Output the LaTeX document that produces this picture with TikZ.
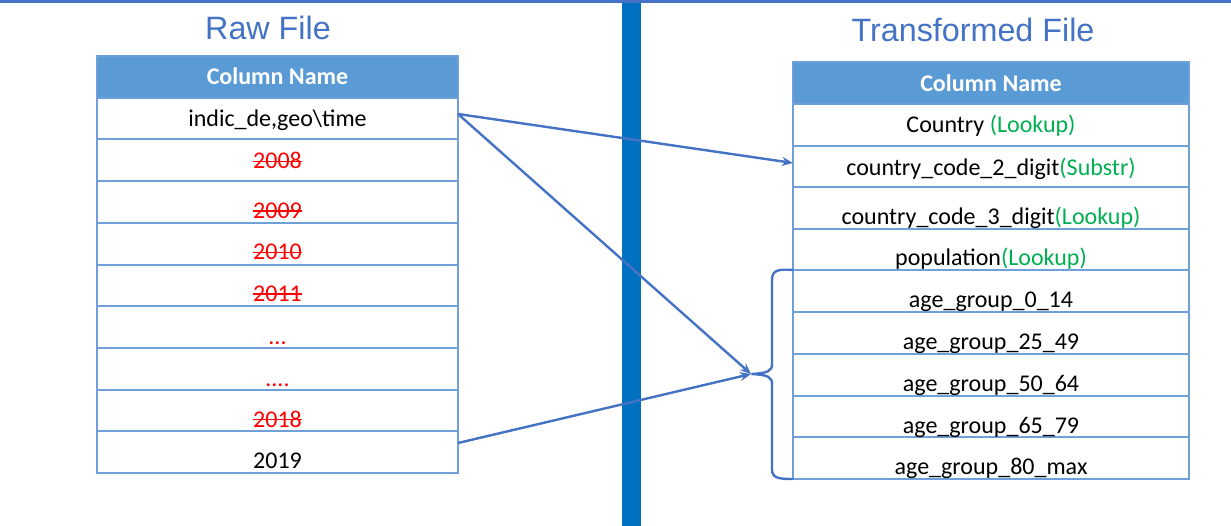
\documentclass[tikz,border=0pt]{standalone}
\usepackage{fontspec}
\setmainfont{Carlito}
\newfontfamily\titlefont{Liberation Sans}
\usetikzlibrary{arrows.meta}
\definecolor{titleblue}{HTML}{4472C4}
\definecolor{headfill}{HTML}{5B9BD5}
\definecolor{gridblue}{HTML}{6FA0DA}
\definecolor{barblue}{HTML}{0070C0}
\definecolor{okgreen}{HTML}{00B050}
\newcommand\mystrike[1]{\setbox0\hbox{#1}\rlap{\rule[0.29em]{\wd0}{1.5pt}}\box0}
\tikzset{
  cell/.style={text=black, font=\fontsize{24}{28}\selectfont, anchor=base, inner sep=0pt},
  redcell/.style={cell, text=red},
  headtxt/.style={text=white, font=\fontsize{24}{28}\selectfont\bfseries, anchor=base, inner sep=0pt},
  titletxt/.style={text=titleblue, font=\titlefont\fontsize{32.3}{38}\selectfont, anchor=base, inner sep=0pt},
  grid/.style={draw=gridblue, line width=1.3pt},
  conn/.style={draw=titleblue, line width=2.4pt, -{Stealth[length=11pt,width=9pt]}},
}
\begin{document}
\begin{tikzpicture}[x=1pt,y=-1pt]
\useasboundingbox (0,0) rectangle (1231,526);
% top line and divider bar
\fill[titleblue] (0,0) rectangle (1231,3);
\fill[barblue] (622,3) rectangle (641,526);
% titles
\node[titletxt] (rawtitle) at (268,40) {Raw File};
\node[titletxt] (trtitle) at (973,42) {Transformed File};
% left table
\fill[headfill] (97,56) rectangle (458,98);
\draw[grid] (97,56) rectangle (458,473);
\foreach \yy in {98,139,181,223,265,306,348,390,431} \draw[grid] (97,\yy) -- (458,\yy);
\node[headtxt] (lh) at (277.5,85) {Column Name};
\node[cell] (l0) at (277.5,127) {indic\_de,geo\textbackslash time};
\node[redcell] (l1) at (277.5,169) {\mystrike{2008}};
\node[redcell] (l2) at (277.5,218.5) {\mystrike{2009}};
\node[redcell] (l3) at (277.5,260) {\mystrike{2010}};
\node[redcell] (l4) at (277.5,301.5) {\mystrike{2011}};
\node[redcell] (l5) at (277.5,344.5) {...};
\node[redcell] (l6) at (277.5,386) {....};
\node[redcell] (l7) at (277.5,427) {\mystrike{2018}};
\node[cell] (l8) at (277.5,468.5) {2019};
% right table
\fill[headfill] (793,62) rectangle (1189,104);
\draw[grid] (793,62) rectangle (1189,479);
\foreach \yy in {104,146,187,229,270,312,354,396,437} \draw[grid] (793,\yy) -- (1189,\yy);
\node[headtxt] (rh) at (991,92) {Column Name};
\node[cell] (r0) at (991,133) {Country \textcolor{okgreen}{(Lookup)}};
\node[cell] (r1) at (991,175.5) {country\_code\_2\_digit\textcolor{okgreen}{(Substr)}};
\node[cell] (r2) at (991,225) {country\_code\_3\_digit\textcolor{okgreen}{(Lookup)}};
\node[cell] (r3) at (991,266) {population\textcolor{okgreen}{(Lookup)}};
\node[cell] (r4) at (991,308) {age\_group\_0\_14};
\node[cell] (r5) at (991,349.5) {age\_group\_25\_49};
\node[cell] (r6) at (991,391) {age\_group\_50\_64};
\node[cell] (r7) at (991,433) {age\_group\_65\_79};
\node[cell] (r8) at (991,474.5) {age\_group\_80\_max};
% brace
\coordinate (btop) at (793,270);
\coordinate (bbot) at (793,479);
\coordinate (btip) at (752,374);
\draw[titleblue, line width=2.4pt, line join=round]
  (btop) .. controls (778,269) and (772,270) .. (772,280)
  -- (772,364) .. controls (772,371) and (768,373) .. (btip)
  .. controls (768,375) and (772,377) .. (772,384)
  -- (772,469) .. controls (772,478) and (778,479) .. (bbot);
% connectors
\coordinate (src1) at (458,114);
\coordinate (src2) at (458,443);
\coordinate (dst1) at (793,163);
\coordinate (dst2) at (751,374);
\draw[conn] (src1) -- (dst1);
\draw[conn] (src1) -- (dst2);
\draw[conn] (src2) -- (dst2);
\end{tikzpicture}
\end{document}
